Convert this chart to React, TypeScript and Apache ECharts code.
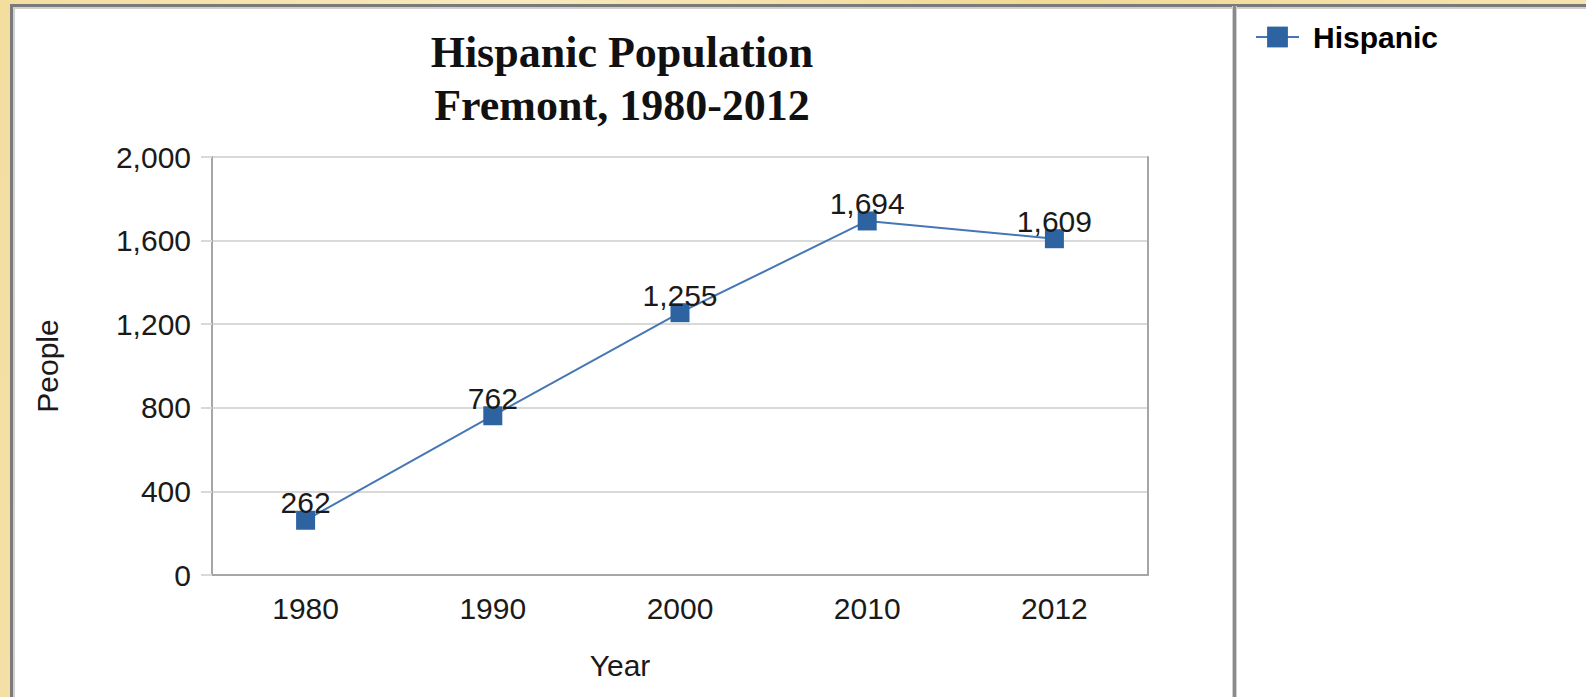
import React, { useEffect, useRef } from "react";
import * as echarts from "echarts";

const years = ["1980", "1990", "2000", "2010", "2012"];
const hispanic = [262, 762, 1255, 1694, 1609];
const yTicks = { min: 0, max: 2000, interval: 400 };
const titleLines = ["Hispanic Population", "Fremont, 1980-2012"];
const seriesName = "Hispanic";
const xName = "Year";
const yName = "People";

const fmt = (v: number) => Number(v).toLocaleString("en-US");
const SANS = "'Liberation Sans', Arial, sans-serif";

export default function App() {
  const ref = useRef<HTMLDivElement>(null);
  useEffect(() => {
    if (!ref.current) return;
    const chart = echarts.init(ref.current, null, { renderer: "svg" });
    chart.setOption({
      animation: false,
      backgroundColor: "transparent",
      graphic: [
        {
          type: "text",
          x: 622,
          y: 26,
          style: {
            text: titleLines.join("\n"),
            font: "bold 44px 'Liberation Serif', 'Times New Roman', serif",
            lineHeight: 53,
            textAlign: "center",
            textVerticalAlign: "top",
            fill: "#111",
          },
        },
        {
          type: "text",
          x: 620,
          y: 665,
          style: {
            text: xName,
            font: "30px " + SANS,
            textAlign: "center",
            textVerticalAlign: "middle",
            fill: "#1a1a1a",
          },
        },
      ],
      legend: {
        left: 1250,
        top: 17,
        itemWidth: 43,
        itemHeight: 26,
        textStyle: {
          fontFamily: SANS,
          fontWeight: "bold",
          fontSize: 30,
          color: "#000",
          padding: [0, 0, 0, 9],
        },
        data: [seriesName],
      },
      grid: { left: 212, right: 438, top: 157, bottom: 122 },
      xAxis: {
        type: "category",
        data: years,
        boundaryGap: true,
        axisLine: { lineStyle: { color: "#a6a6a6", width: 2 } },
        axisTick: { alignWithLabel: true, length: 11, lineStyle: { color: "#a6a6a6", width: 2 } },
        axisLabel: { fontFamily: SANS, fontSize: 30, color: "#1a1a1a", margin: 18 },
      },
      yAxis: [
        {
          type: "value",
          min: yTicks.min,
          max: yTicks.max,
          interval: yTicks.interval,
          name: yName,
          nameLocation: "middle",
          nameGap: 150,
          nameTextStyle: { fontFamily: SANS, fontSize: 30, color: "#1a1a1a" },
          axisLine: { show: true, lineStyle: { color: "#a6a6a6", width: 2 } },
          axisTick: { show: true, length: 11, lineStyle: { color: "#d9d9d9", width: 2 } },
          splitLine: { show: true, lineStyle: { color: "#d9d9d9", width: 2 } },
          axisLabel: { fontFamily: SANS, fontSize: 30, color: "#1a1a1a", margin: 21, formatter: (v: number) => fmt(v) },
        },
        {
          type: "value",
          position: "right",
          min: yTicks.min,
          max: yTicks.max,
          interval: yTicks.interval,
          axisLine: { show: true, lineStyle: { color: "#a6a6a6", width: 2 } },
          axisTick: { show: false },
          axisLabel: { show: false },
          splitLine: { show: false },
        },
      ],
      series: [
        {
          name: seriesName,
          type: "line",
          data: hispanic,
          symbol: "rect",
          symbolSize: 19,
          itemStyle: { color: "#2d63a0" },
          lineStyle: { color: "#4577b5", width: 2 },
          label: {
            show: true,
            position: "top",
            distance: -7,
            fontFamily: SANS,
            fontSize: 30,
            color: "#1a1a1a",
            formatter: (p: any) => fmt(p.value),
          },
        },
      ],
    });
    return () => chart.dispose();
  }, []);

  return (
    <div
      style={{
        position: "absolute",
        left: 0,
        top: 0,
        width: 1586,
        height: 697,
        overflow: "hidden",
        background: "linear-gradient(100deg, #f3dd9f 0%, #f8e9bd 30%, #f1d995 60%, #f7e6b4 100%)",
      }}
    >
      <div
        style={{
          position: "absolute",
          left: 10,
          top: 4,
          width: 1590,
          height: 710,
          background: "#fff",
          borderLeft: "3px solid #7a7a7a",
          borderTop: "3px solid #7a7a7a",
          boxShadow: "inset 2px 2px 0 #d0d0d0",
        }}
      />
      <div
        style={{
          position: "absolute",
          left: 1233,
          top: 6,
          width: 3,
          height: 700,
          background: "#8a8a8a",
          boxShadow: "1px 0 0 #d0d0d0, -1px 0 0 #d0d0d0",
        }}
      />
      <div ref={ref} style={{ position: "absolute", left: 0, top: 0, width: 1586, height: 697 }} />
    </div>
  );
}
